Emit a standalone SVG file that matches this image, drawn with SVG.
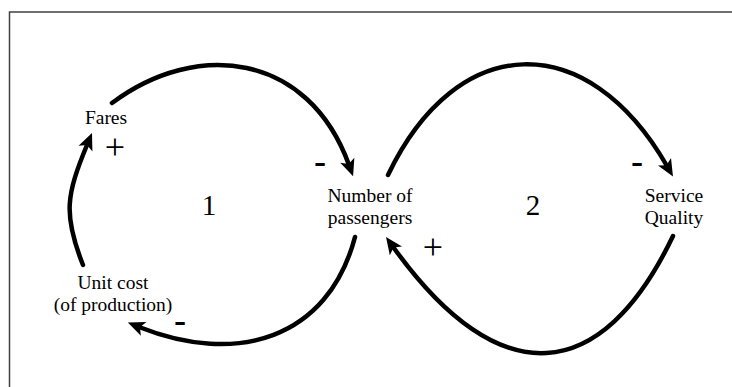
<svg xmlns="http://www.w3.org/2000/svg" width="732" height="387" viewBox="0 0 732 387">
<defs>
<style>
.lbl{font-family:"Liberation Serif","Times New Roman",serif;font-size:19.5px;fill:#000;text-anchor:middle}
.num{font-family:"Liberation Serif","Times New Roman",serif;font-size:29px;fill:#000;text-anchor:middle}
.plus{font-family:"Liberation Serif","Times New Roman",serif;font-size:36px;fill:#000;text-anchor:middle}
.minus{font-family:"Liberation Sans",Arial,sans-serif;font-size:38px;fill:#000;text-anchor:middle}
.link{fill:none;stroke:#000;stroke-width:4.5;stroke-linecap:round;marker-end:url(#ah)}
</style>
<marker id="ah" markerUnits="userSpaceOnUse" viewBox="-15 -15 30 30" markerWidth="30" markerHeight="30" refX="0" refY="0" orient="auto">
<path d="M12,0 L-5,-7.5 L-1,0 L-5,7.5 Z" fill="#000"/>
</marker>
</defs>
<rect width="732" height="387" fill="#fff"/>
<path d="M9.5,387 V12 H732" fill="none" stroke="#404040" stroke-width="1.5"/>
<g id="connectors">
<path id="c1" class="link" d="M112,103 C196,40 308,52 349,165"/>
<path id="c2" class="link" d="M388,175 C457,31 587,27 667,166"/>
<path id="c3" class="link" d="M355,237 C328,339 237,366 139,327"/>
<path id="c4" class="link" d="M83,265 C62.7,213.8 66.5,194.6 87.4,144"/>
<path id="c5" class="link" d="M673,236 C602,384.5 500,396 393,246.7"/>
</g>
<g id="polarity">
<text class="plus" x="115" y="159">+</text>
<text class="minus" x="320" y="175.4">-</text>
<text class="minus" x="637" y="175.4">-</text>
<text class="minus" x="180" y="333.7">-</text>
<text class="plus" x="433" y="259">+</text>
</g>
<g id="loop1"><text class="num" x="209" y="215">1</text></g>
<g id="loop2"><text class="num" x="533" y="215">2</text></g>
<g id="fares"><text class="lbl" x="106" y="124">Fares</text></g>
<g id="passengers"><text class="lbl" x="370" y="202">Number of</text><text class="lbl" x="370" y="224">passengers</text></g>
<g id="service"><text class="lbl" x="674" y="202">Service</text><text class="lbl" x="674" y="224">Quality</text></g>
<g id="unitcost"><text class="lbl" x="113" y="289">Unit cost</text><text class="lbl" x="113" y="311">(of production)</text></g>
</svg>
